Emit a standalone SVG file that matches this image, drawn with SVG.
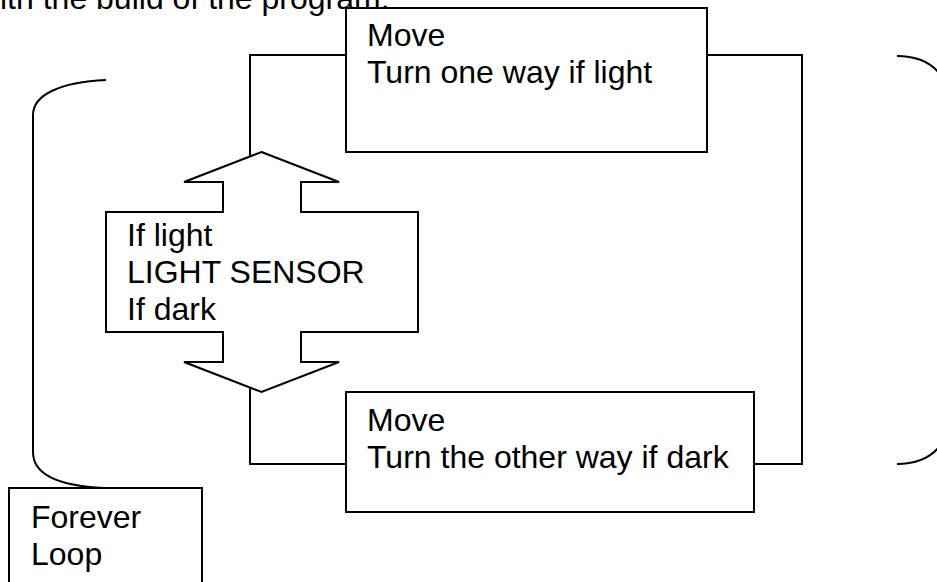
<svg xmlns="http://www.w3.org/2000/svg" width="937" height="582" viewBox="0 0 937 582">
  <style>
    text { font-family: "Liberation Sans", Arial, sans-serif; font-size: 32px; fill: #000; }
    .box { fill: #fff; stroke: #000; stroke-width: 2; }
    .line { fill: none; stroke: #000; stroke-width: 2; }
  </style>
  <rect width="937" height="582" fill="#fff"/>

  <!-- running text above the chart -->
  <text x="0" y="9">ith the build of the program.</text>

  <!-- connectors -->
  <g id="connectors">
    <polyline class="line" points="346,55 250,55 250,157"/>
    <polyline class="line" points="707,55 802,55 802,464 754,464"/>
    <polyline class="line" points="250,388 250,464 346,464"/>
    <!-- loop brackets -->
    <path class="line" d="M106,80 C60,82 33,95 33,115 L33,452 C33,475 60,486 104,488"/>
    <path class="line" d="M897,56 C922,56 942,66 950,95 L950,425 C942,454 922,464 897,464"/>
  </g>

  <g id="move-light">
    <rect class="box" x="346" y="8" width="361" height="144"/>
    <text x="367" y="46">Move</text>
    <text x="367" y="83">Turn one way if light</text>
  </g>

  <g id="light-sensor">
    <path class="box" d="M261.5,152 L339,182 L301,182 L301,212 L418,212 L418,332 L301,332 L301,362 L339,362 L261.5,392 L184,362 L223,362 L223,332 L106,332 L106,212 L223,212 L223,182 L184,182 Z"/>
    <text x="127" y="246">If light</text>
    <text x="127" y="283">LIGHT SENSOR</text>
    <text x="127" y="320">If dark</text>
  </g>

  <g id="move-dark">
    <rect class="box" x="346" y="392" width="408" height="120"/>
    <text x="367" y="431">Move</text>
    <text x="367" y="468">Turn the other way if dark</text>
  </g>

  <g id="forever-loop">
    <rect class="box" x="9" y="488" width="193" height="110"/>
    <text x="31" y="528">Forever</text>
    <text x="31" y="565">Loop</text>
  </g>
</svg>
